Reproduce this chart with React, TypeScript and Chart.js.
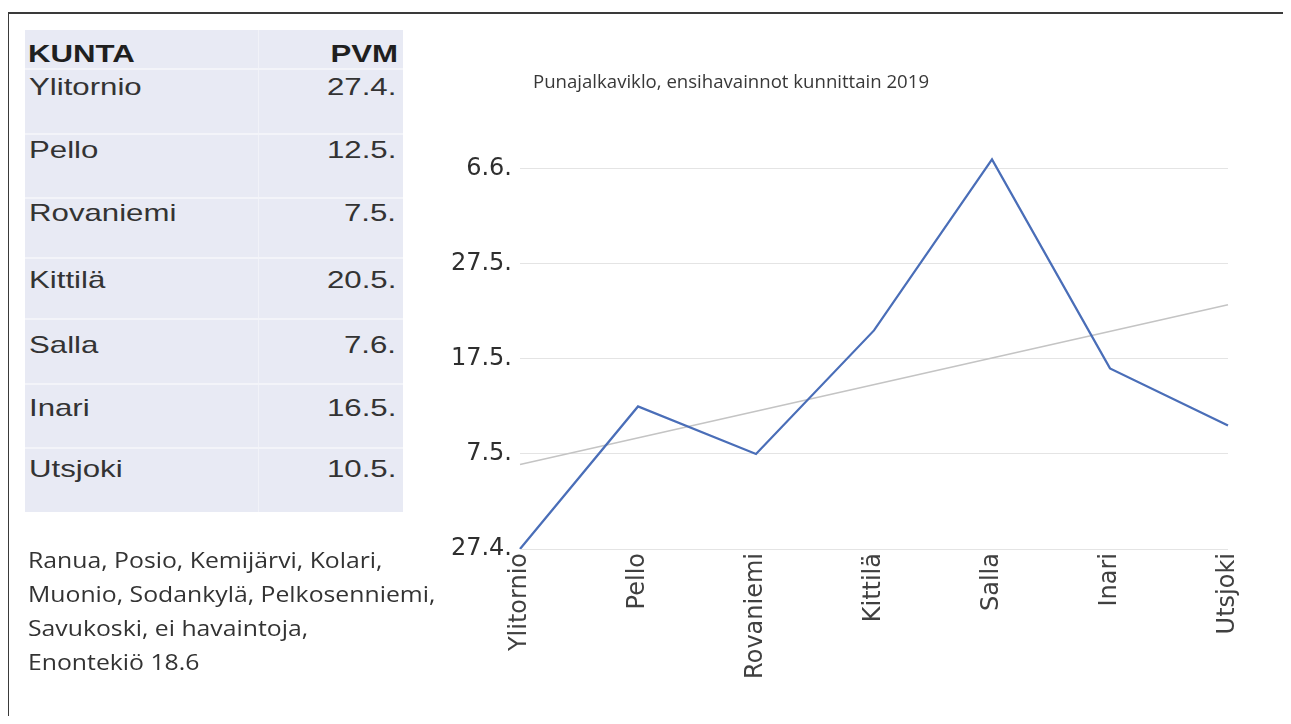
import React, { useEffect, useRef } from 'react';
import { Chart, registerables } from 'chart.js';

Chart.register(...registerables);

// ---- data ----
const municipalities = ['Ylitornio', 'Pello', 'Rovaniemi', 'Kittilä', 'Salla', 'Inari', 'Utsjoki'];
const firstSightingDates = ['27.4.', '12.5.', '7.5.', '20.5.', '7.6.', '16.5.', '10.5.'];
const daysFrom27April = [0, 15, 10, 23, 41, 19, 13];
const trendValues = [8.9, null, null, null, null, null, 25.7];
const yTickValues = [0, 10, 20, 30, 40];
const yTickLabels = ['27.4.', '7.5.', '17.5.', '27.5.', '6.6.'];
const tableHeaders = ['KUNTA', 'PVM'];
const noteLines = [
  'Ranua, Posio, Kemijärvi, Kolari,',
  'Muonio, Sodankylä, Pelkosenniemi,',
  'Savukoski, ei havaintoja,',
  'Enontekiö 18.6',
];
const chartTitle = 'Punajalkaviklo, ensihavainnot kunnittain 2019';

// ---- layout constants (page coordinates) ----
const rowTextTops = [42, 75, 138, 201, 268, 333, 396, 457];
const rowSeparators = [68, 133, 197, 257, 318, 383, 447];

const tableFont = '"Liberation Sans", Arial, sans-serif';
const noteFont = '"Open Sans", sans-serif';

function Stretched({ text, origin, bold }: { text: string; origin: 'left' | 'right'; bold?: boolean }) {
  return (
    <span
      style={{
        display: 'inline-block',
        transform: 'scaleX(1.3)',
        transformOrigin: origin,
        fontWeight: bold ? 700 : 400,
        whiteSpace: 'nowrap',
      }}
    >
      {text}
    </span>
  );
}

function LineChart() {
  const canvasRef = useRef<HTMLCanvasElement | null>(null);

  useEffect(() => {
    if (!canvasRef.current) return;
    const chart = new Chart(canvasRef.current, {
      type: 'line',
      data: {
        labels: municipalities,
        datasets: [
          {
            label: 'Ensihavainto',
            data: daysFrom27April,
            borderColor: '#4A6EB8',
            backgroundColor: '#4A6EB8',
            borderWidth: 2.25,
            pointRadius: 0,
            tension: 0,
          },
          {
            label: 'Trendi',
            data: trendValues,
            borderColor: '#c4c4c4',
            backgroundColor: '#c4c4c4',
            borderWidth: 1.5,
            pointRadius: 0,
            spanGaps: true,
            tension: 0,
          },
        ],
      },
      options: {
        animation: false,
        responsive: true,
        maintainAspectRatio: false,
        layout: { padding: { left: 0, right: 63, top: 0, bottom: 0 } },
        plugins: {
          legend: { display: false },
          tooltip: { enabled: false },
          title: {
            display: true,
            text: chartTitle,
            align: 'center',
            color: '#383838',
            font: { family: '"Open Sans", sans-serif', size: 18.6, weight: 'normal' },
            padding: { top: 12, bottom: 27 },
          },
        },
        scales: {
          x: {
            offset: false,
            grid: { display: false, drawTicks: false },
            border: { display: false },
            ticks: {
              minRotation: 90,
              maxRotation: 90,
              padding: 4,
              color: '#404040',
              font: { family: '"DejaVu Sans", sans-serif', size: 24 },
            },
            afterFit: (scale: any) => {
              scale.height = 175;
            },
          },
          y: {
            min: 0,
            max: 45,
            afterBuildTicks: (scale: any) => {
              scale.ticks = yTickValues.map((v) => ({ value: v }));
            },
            grid: { color: '#e4e4e4', lineWidth: 1, drawTicks: false },
            border: { display: false },
            ticks: {
              padding: 8,
              color: '#2e2e2e',
              font: { family: '"DejaVu Sans", sans-serif', size: 24 },
              callback: (value: any) => {
                const i = yTickValues.indexOf(Number(value));
                return i >= 0 ? yTickLabels[i] : '';
              },
            },
            afterFit: (scale: any) => {
              scale.width = 286;
            },
          },
        },
      },
    });
    return () => chart.destroy();
  }, []);

  return (
    <div style={{ position: 'absolute', left: 234, top: 60, width: 1057, height: 664 }}>
      <canvas ref={canvasRef} />
    </div>
  );
}

export default function App() {
  return (
    <div style={{ position: 'relative', width: 1275, height: 708 }}>
      <div
        style={{
          position: 'absolute',
          left: -8,
          top: -8,
          width: 1291,
          height: 724,
          overflow: 'hidden',
          background: '#ffffff',
        }}
      >
        {/* outer frame */}
        <div
          style={{
            position: 'absolute',
            left: 7,
            top: 12,
            width: 1400,
            height: 800,
            borderTop: '2px solid #3a3a3a',
            borderLeft: '2px solid #3a3a3a',
          }}
        />

        <LineChart />

        {/* table */}
        <div
          style={{
            position: 'absolute',
            left: 25,
            top: 30,
            width: 378,
            height: 482,
            background: '#E8EAF4',
            zIndex: 1,
          }}
        >
          <div style={{ position: 'absolute', left: 233, top: 0, width: 1, height: 482, background: '#f1f2f8' }} />
          {rowSeparators.map((y, i) => (
            <div
              key={'sep' + i}
              style={{ position: 'absolute', left: 0, top: y - 30, width: 378, height: 2, background: '#f3f4f9' }}
            />
          ))}
        </div>

        <div style={{ position: 'absolute', left: 0, top: 0, zIndex: 2, fontFamily: tableFont, fontSize: 24, lineHeight: '24px', color: '#1f1f1f' }}>
          <div style={{ position: 'absolute', left: 28, top: rowTextTops[0] }}>
            <Stretched text={tableHeaders[0]} origin="left" bold />
          </div>
          <div style={{ position: 'absolute', left: 0, width: 398, textAlign: 'right', top: rowTextTops[0] }}>
            <Stretched text={tableHeaders[1]} origin="right" bold />
          </div>
          {municipalities.map((m, i) => (
            <React.Fragment key={m}>
              <div style={{ position: 'absolute', left: 29, top: rowTextTops[i + 1], color: '#333' }}>
                <Stretched text={m} origin="left" />
              </div>
              <div
                style={{
                  position: 'absolute',
                  left: 0,
                  width: 396,
                  textAlign: 'right',
                  top: rowTextTops[i + 1],
                  color: '#333',
                }}
              >
                <Stretched text={firstSightingDates[i]} origin="right" />
              </div>
            </React.Fragment>
          ))}
        </div>

        {/* note */}
        <div
          style={{
            position: 'absolute',
            left: 28,
            top: 543,
            zIndex: 2,
            fontFamily: noteFont,
            fontSize: 21,
            lineHeight: '34px',
            color: '#333',
          }}
        >
          {noteLines.map((line, i) => (
            <div key={i} style={{ whiteSpace: 'nowrap' }}>
              <span style={{ display: 'inline-block', transform: 'scaleX(1.18)', transformOrigin: 'left' }}>{line}</span>
            </div>
          ))}
        </div>
      </div>
    </div>
  );
}
